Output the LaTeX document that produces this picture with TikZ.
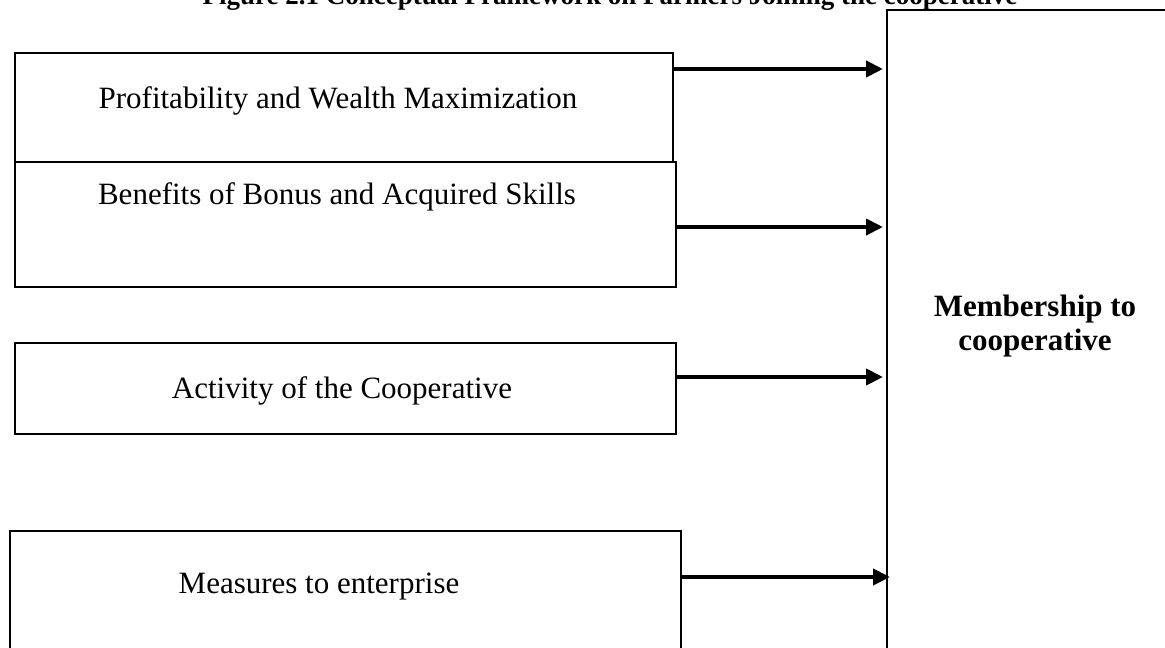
\documentclass[tikz,border=0pt]{standalone}
\usepackage{fontspec}
\setmainfont{Liberation Serif}
\usetikzlibrary{arrows.meta}
\begin{document}
\begin{tikzpicture}[x=1pt,y=-1pt,
  box/.style={draw,line width=2pt,inner sep=0pt,outer sep=0pt},
  lbl/.style={font=\fontsize{31}{34}\selectfont,inner sep=0pt},
  arr/.style={line width=4pt,-{Triangle[length=17pt,width=16pt]}}]
\clip (0,0) rectangle (1165,648);
\fill[white] (0,0) rectangle (1165,648);
\node[font=\fontsize{27}{30}\selectfont\bfseries,anchor=base,inner sep=0pt] (title) at (610,4)
  {Figure 2.1 Conceptual Framework on Farmers Joining the cooperative};
\node[box,minimum width=658pt,minimum height=109pt] (b1) at (344,107.5) {};
\node[box,minimum width=661pt,minimum height=125pt] (b2) at (345.5,224.5) {};
\node[box,minimum width=661pt,minimum height=91pt] (b3) at (345.5,388.5) {};
\node[box,minimum width=671pt,minimum height=169pt] (b4) at (345.5,615.5) {};
\node[box,minimum width=313pt,minimum height=690pt] (mem) at (1043.5,355) {};
\node[lbl,anchor=base] (t1) at (338,108) {Profitability and Wealth Maximization};
\node[lbl,anchor=base] (t2) at (337,204) {Benefits of Bonus and Acquired Skills};
\node[lbl,anchor=base] (t3) at (342,398) {Activity of the Cooperative};
\node[lbl,anchor=base] (t4) at (319,593) {Measures to enterprise};
\node[font=\fontsize{31}{34}\selectfont\bfseries,align=center,inner sep=0pt] (tm) at (1035,326)
  {Membership to\\cooperative};
\coordinate (y1) at (0,69);
\coordinate (y2) at (0,227);
\coordinate (y3) at (0,377);
\coordinate (y4) at (0,577);
\draw[arr,shorten >=4pt] (b1.east |- y1) -- (mem.west |- y1);
\draw[arr,shorten >=4pt] (b2.east |- y2) -- (mem.west |- y2);
\draw[arr,shorten >=4pt] (b3.east |- y3) -- (mem.west |- y3);
\draw[arr,shorten >=-3pt] (b4.east |- y4) -- (mem.west |- y4);
\end{tikzpicture}
\end{document}
